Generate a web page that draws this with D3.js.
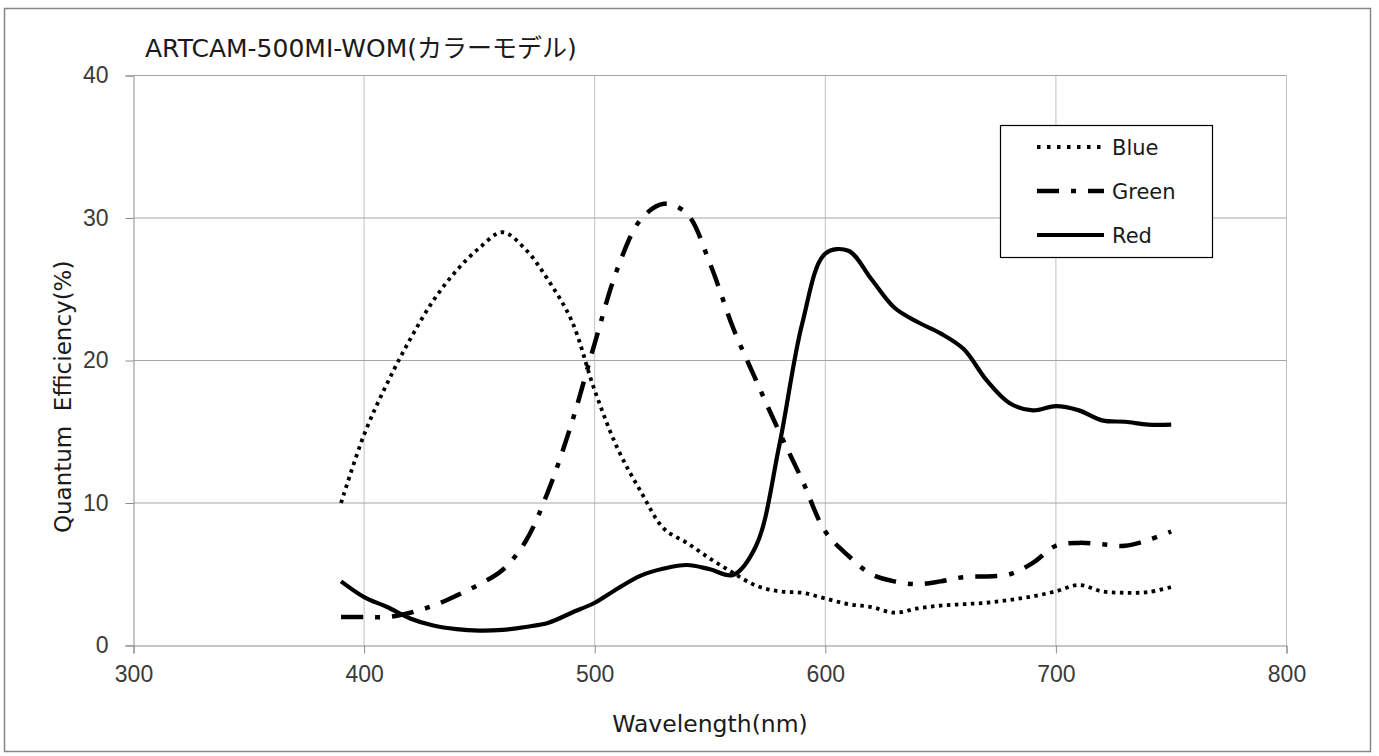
<!DOCTYPE html>
<html lang="ja">
<head>
<meta charset="UTF-8">
<title>ARTCAM-500MI-WOM</title>
<script src="https://d3js.org/d3.v7.min.js"></script>
<style>
  body { margin: 0; background: #fff; }
  svg text { font-family: "DejaVu Sans", "Noto Sans CJK JP", sans-serif; }
</style>
</head>
<body>
<svg width="1379" height="756"></svg>
<script>
// wavelengths (nm)
const wavelengths = [390, 400, 410, 420, 430, 440, 450, 460, 470, 480, 490, 500, 510, 520, 530, 540, 550, 560, 570, 580,
                     590, 600, 610, 620, 630, 640, 650, 660, 670, 680, 690, 700, 710, 720, 730, 740, 750];

// quantum efficiency (%)
const blueQE  = [10.0, 14.8, 18.4, 21.5, 24.2, 26.3, 27.9, 29.0, 27.8, 25.6, 22.8, 17.9, 13.8, 10.8, 8.2, 7.2, 6.1, 5.1, 4.2, 3.8,
                 3.7, 3.3, 2.9, 2.7, 2.3, 2.6, 2.8, 2.9, 3.0, 3.2, 3.45, 3.8, 4.25, 3.8, 3.7, 3.75, 4.1];
const greenQE = [2.0, 2.0, 2.0, 2.3, 2.8, 3.5, 4.3, 5.3, 7.3, 10.9, 15.6, 21.2, 26.5, 29.9, 31.0, 30.3, 26.8, 22.3, 18.6, 15.0,
                 11.6, 8.0, 6.3, 5.0, 4.5, 4.3, 4.5, 4.8, 4.85, 5.0, 5.8, 7.0, 7.2, 7.1, 7.0, 7.4, 8.0];
const redQE   = [4.5, 3.4, 2.7, 1.9, 1.4, 1.15, 1.05, 1.1, 1.3, 1.6, 2.3, 3.0, 4.0, 4.9, 5.4, 5.65, 5.35, 4.95, 7.0, 14.0,
                 22.6, 27.5, 27.7, 25.7, 23.7, 22.7, 21.9, 20.8, 18.6, 17.0, 16.5, 16.8, 16.5, 15.8, 15.7, 15.5, 15.5];

const seriesNames = ["Blue", "Green", "Red"];
const xTicks = [300, 400, 500, 600, 700, 800];
const yTicks = [0, 10, 20, 30, 40];

const title = "ARTCAM-500MI-WOM(カラーモデル)";
const xLabel = "Wavelength(nm)";
const yLabel = "Quantum  Efficiency(%)";

const svg = d3.select("svg");

// outer frame
svg.append("rect")
  .attr("x", 4.5).attr("y", 8.5).attr("width", 1366).attr("height", 743)
  .attr("fill", "none").attr("stroke", "#868686").attr("stroke-width", 1.5);

const x = d3.scaleLinear().domain([300, 800]).range([133.5, 1286.5]);
const y = d3.scaleLinear().domain([0, 40]).range([645.5, 75.5]);

// grid
svg.append("g").selectAll("line").data(xTicks.slice(1)).enter().append("line")
  .attr("x1", d => x(d)).attr("x2", d => x(d))
  .attr("y1", y(40)).attr("y2", y(0))
  .attr("stroke", "#c0c0c0").attr("stroke-width", 1);
svg.append("g").selectAll("line").data(yTicks.slice(1)).enter().append("line")
  .attr("x1", x(300)).attr("x2", x(800))
  .attr("y1", d => y(d)).attr("y2", d => y(d))
  .attr("stroke", "#a6a6a6").attr("stroke-width", 1);

// axes
const xAxis = svg.append("g")
  .attr("transform", "translate(0," + y(0) + ")")
  .call(d3.axisBottom(x).tickValues(xTicks).tickSize(8).tickPadding(12));
const yAxis = svg.append("g")
  .attr("transform", "translate(" + x(300) + ",0)")
  .call(d3.axisLeft(y).tickValues(yTicks).tickSize(8).tickPadding(17));
[xAxis, yAxis].forEach(a => {
  a.select(".domain").attr("stroke", "#8c8c8c");
  a.selectAll(".tick line").attr("stroke", "#8c8c8c");
  a.selectAll("text").attr("fill", "#3a3a3a").style("font-size", "23px")
    .style("font-family", "\"Liberation Sans\", Arial, sans-serif");
});

// curves
const line = d3.line()
  .x((d, i) => x(wavelengths[i]))
  .y(d => y(d))
  .curve(d3.curveCatmullRom.alpha(0.5));

const styles = {
  Blue:  { dash: "3.5,4.5", width: 3.8 },
  Green: { dash: "22,12,5,12", width: 4.5 },
  Red:   { dash: null, width: 4.2 }
};
const allSeries = [blueQE, greenQE, redQE];

allSeries.forEach((vals, i) => {
  const s = styles[seriesNames[i]];
  svg.append("path")
    .datum(vals)
    .attr("d", line)
    .attr("fill", "none")
    .attr("stroke", "#000")
    .attr("stroke-width", s.width)
    .attr("stroke-dasharray", s.dash);
});

// legend
const legend = svg.append("g");
legend.append("rect")
  .attr("x", 1000.5).attr("y", 125.5).attr("width", 212).attr("height", 132)
  .attr("fill", "#fff").attr("stroke", "#000").attr("stroke-width", 1.2);
seriesNames.forEach((name, i) => {
  const ly = 147 + i * 44;
  const s = styles[name];
  legend.append("line")
    .attr("x1", 1037).attr("x2", 1104).attr("y1", ly).attr("y2", ly)
    .attr("stroke", "#000").attr("stroke-width", s.width)
    .attr("stroke-dasharray", name === "Blue" ? "3.5,6.5" : s.dash);
  legend.append("text")
    .attr("x", 1112).attr("y", ly).attr("dy", "0.36em")
    .style("font-size", "21px").attr("fill", "#1a1a1a")
    .text(name);
});

// titles
svg.append("text")
  .attr("x", 145).attr("y", 48).attr("dy", "0.36em")
  .style("font-size", "25px").attr("fill", "#1a1a1a")
  .text(title);

svg.append("text")
  .attr("x", x(550)).attr("y", 724).attr("dy", "0.36em")
  .attr("text-anchor", "middle")
  .style("font-size", "23.5px").attr("fill", "#1a1a1a")
  .text(xLabel);

svg.append("text")
  .attr("transform", "translate(63," + y(17.45) + ") rotate(-90)")
  .attr("dy", "0.36em")
  .attr("text-anchor", "middle")
  .style("font-size", "23px").attr("fill", "#1a1a1a")
  .style("white-space", "pre")
  .text(yLabel);
</script>
</body>
</html>
